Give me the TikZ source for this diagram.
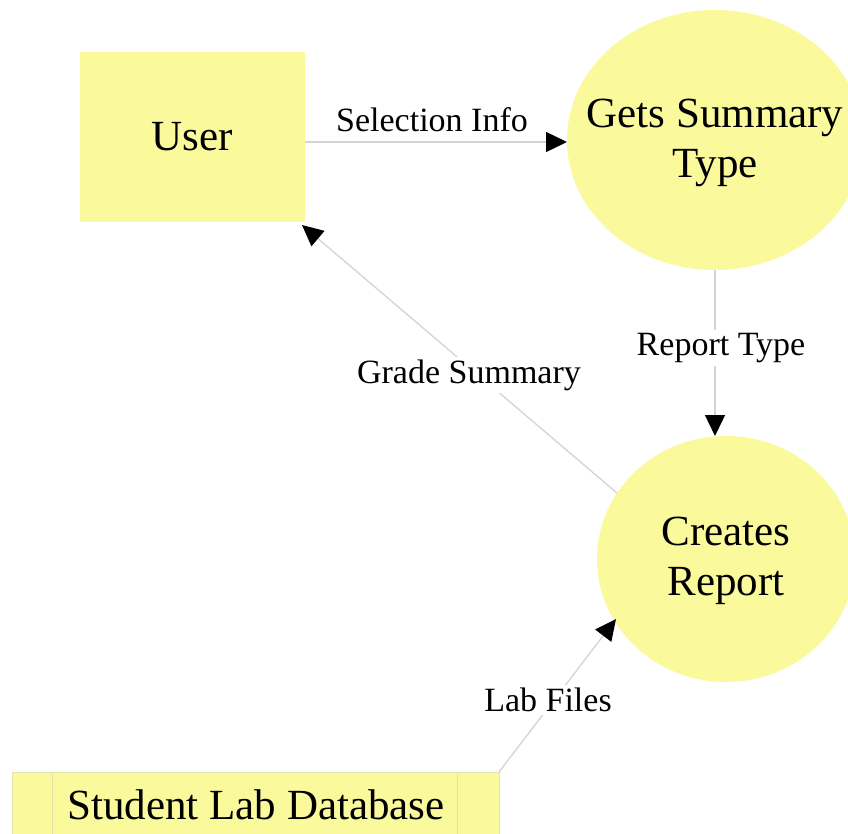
\documentclass[tikz,border=0pt]{standalone}
\usepackage{fontspec}
\setmainfont{Liberation Serif}
\usetikzlibrary{shapes.geometric,arrows.meta}
\definecolor{dfdyellow}{RGB}{250,250,156}
\definecolor{dfdline}{RGB}{212,212,212}
\definecolor{dfdedge}{RGB}{228,228,170}
\tikzset{
  entity/.style={rectangle, fill=dfdyellow, draw=none, inner sep=0pt},
  proc/.style={ellipse, fill=dfdyellow, draw=none, inner sep=0pt},
  bigtext/.style={font=\fontsize{43}{50}\selectfont, align=center, inner sep=0pt},
  flow/.style={draw=dfdline, line width=1.3pt, -{Triangle[length=21pt,width=20pt,color=black,fill=black]}},
  lbl/.style={font=\fontsize{34}{40}\selectfont, fill=white, inner sep=3pt}
}
\begin{document}
\begin{tikzpicture}[x=1pt,y=-1pt]
\useasboundingbox (0,0) rectangle (848,833);
\fill[white] (0,0) rectangle (848,833);

% nodes
\node[entity, minimum width=225pt, minimum height=170pt] (user) at (192.5,137) {};
\node[bigtext] (usert) at (user) {User};

\node[proc, minimum width=296pt, minimum height=260pt] (gst) at (715,140) {};
\node[bigtext] (gstt) at (715,143) {Gets Summary\\Type};

\node[proc, minimum width=258pt, minimum height=246pt] (cr) at (726,559) {};
\node[bigtext] (crt) at (726,561) {Creates\\Report};

\node[entity, draw=dfdedge, line width=0.6pt, minimum width=487pt, minimum height=66pt] (db) at (255.5,805) {};
\draw[dfdedge, line width=0.6pt] (52,772) -- (52,838) (457,772) -- (457,838);
\node[bigtext] (dbt) at (256,805) {Student Lab Database};

% flows
\coordinate (selA) at (305,142);
\coordinate (selB) at (567,142);
\draw[flow] (selA) -- (selB);
\node[lbl, fill=none] (selL) at (432,120) {Selection Info};

\coordinate (rtA) at (715,270);
\coordinate (rtB) at (715,436);
\draw[flow] (rtA) -- (rtB);
\node[lbl] (rtL) at (721,348) {Report Type};

\coordinate (gsA) at (617,493);
\coordinate (gsB) at (302,225);
\draw[flow] (gsA) -- (gsB);
\node[lbl] (gsL) at (469,375) {Grade Summary};

\coordinate (lfA) at (499,772);
\coordinate (lfB) at (616,619);
\draw[flow] (lfA) -- (lfB);
\node[lbl] (lfL) at (548,700) {Lab Files};
\end{tikzpicture}
\end{document}
